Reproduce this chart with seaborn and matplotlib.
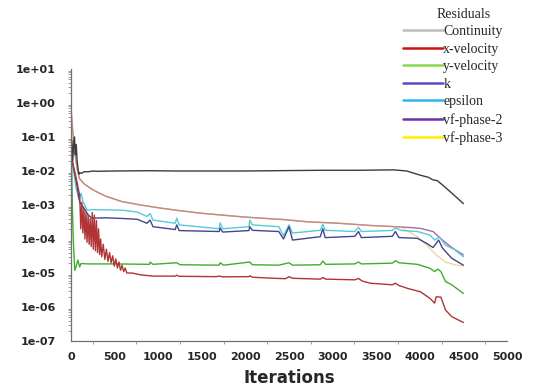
import numpy as np
import pandas as pd
import matplotlib
matplotlib.use("Agg")
import matplotlib.pyplot as plt
from matplotlib.lines import Line2D
import seaborn as sns

# ---------------- data ----------------
continuity_x = [0, 10, 20, 30, 40, 50, 60, 70, 80, 90, 100, 120, 150, 200, 250, 300, 500, 900, 1200,
                1500, 2000, 2500, 2900, 3300, 3700, 3850, 4000, 4100, 4150, 4200, 4260, 4370, 4500]
continuity_y = [3e-2, 8e-2, 2e-2, 6e-2, 1e-1, 3e-2, 6e-2, 2e-2, 1.2e-2, 8e-3, 9e-3, 8.5e-3, 9.5e-3, 9.5e-3,
                1.0e-2, 9.8e-3, 1.0e-2, 1.02e-2, 1.0e-2, 1.0e-2, 1.0e-2, 1.03e-2, 1.05e-2, 1.05e-2, 1.08e-2,
                1.0e-2, 7.6e-3, 6.5e-3, 5.5e-3, 5.2e-3, 3.9e-3, 2.2e-3, 1.1e-3]

xvel_x = [0, 25, 50, 75, 90, 100, 112, 124, 136, 148, 160, 172, 184, 196, 208, 220, 232, 244, 256, 268,
          280, 292, 304, 316, 328, 340, 352, 370, 388, 406, 424, 442, 460, 478, 496, 514, 532, 550, 568,
          586, 604, 622, 640, 700, 800, 943, 1195, 1213, 1240, 1663, 1700, 1740, 2041, 2050, 2080, 2383,
          2460, 2500, 2540, 2859, 2888, 2920, 3254, 3297, 3340, 3434, 3685, 3721, 3760, 3864, 4008, 4116,
          4170, 4188, 4242, 4295, 4367, 4500]
xvel_y = [3e-2, 1.5e-2, 8e-3, 4e-3, 2.5e-3, 2e-3, 2e-4, 1.2e-3, 1.5e-4, 8e-4, 1e-4, 6e-4, 8e-5, 5e-4, 7e-5,
          4e-4, 6e-5, 6e-4, 5e-5, 5e-4, 4.5e-5, 3.5e-4, 4e-5, 2e-4, 3.5e-5, 1e-4, 3e-5, 7e-5, 2.5e-5, 5e-5,
          2.2e-5, 4e-5, 2e-5, 3.2e-5, 1.6e-5, 2.6e-5, 1.4e-5, 2.1e-5, 1.2e-5, 1.7e-5, 1.1e-5, 1.4e-5, 1.0e-5,
          1.0e-5, 8.8e-6, 8.1e-6, 8.1e-6, 8.6e-6, 8e-6, 7.8e-6, 8.1e-6, 7.7e-6, 7.8e-6, 8.3e-6, 7.5e-6,
          6.9e-6, 6.8e-6, 7.8e-6, 7e-6, 6.6e-6, 7.4e-6, 6.6e-6, 6.3e-6, 6.9e-6, 5.8e-6, 5e-6, 4.5e-6, 5e-6,
          4.3e-6, 3.5e-6, 2.8e-6, 1.8e-6, 1.3e-6, 2e-6, 1.95e-6, 8.1e-7, 5.2e-7, 3.5e-7]

yvel_x = [0, 5, 15, 25, 35, 43, 60, 79, 100, 115, 200, 500, 900, 907, 940, 1213, 1250, 1700, 1710, 1750,
          2050, 2080, 2383, 2500, 2540, 2859, 2888, 2920, 3254, 3297, 3330, 3685, 3721, 3760, 3972, 4116,
          4170, 4206, 4242, 4295, 4367, 4500]
yvel_y = [2e-1, 5e-2, 1e-3, 1.2e-4, 3e-5, 1.2e-5, 1.6e-5, 2.4e-5, 1.5e-5, 1.9e-5, 1.85e-5, 1.85e-5, 1.8e-5,
          2.1e-5, 1.8e-5, 2e-5, 1.75e-5, 1.7e-5, 2e-5, 1.7e-5, 2.1e-5, 1.75e-5, 1.7e-5, 2.0e-5, 1.7e-5,
          1.75e-5, 2.25e-5, 1.8e-5, 1.85e-5, 2.1e-5, 1.85e-5, 1.95e-5, 2.3e-5, 2e-5, 1.8e-5, 1.38e-5,
          1.1e-5, 1.3e-5, 1.1e-5, 5.6e-6, 4.5e-6, 2.5e-6]

k_x = [0, 30, 60, 100, 150, 200, 241, 400, 600, 760, 871, 907, 940, 1195, 1213, 1240, 1700, 1710, 1740,
       2041, 2050, 2080, 2383, 2437, 2500, 2540, 2859, 2888, 2915, 3254, 3297, 3330, 3685, 3721, 3760,
       3972, 4080, 4152, 4216, 4260, 4367, 4500]
k_y = [3e-2, 1.2e-2, 5e-3, 1.2e-3, 8e-4, 5e-4, 4.1e-4, 4.2e-4, 4e-4, 3.8e-4, 2.9e-4, 3.6e-4, 2.3e-4,
       1.9e-4, 2.6e-4, 1.77e-4, 1.66e-4, 2.1e-4, 1.6e-4, 1.77e-4, 2.3e-4, 1.8e-4, 1.66e-4, 1.0e-4,
       2.3e-4, 9.3e-5, 1.17e-4, 2e-4, 1.1e-4, 1.2e-4, 1.66e-4, 1.1e-4, 1.2e-4, 1.66e-4, 1.1e-4, 1.05e-4,
       7.4e-5, 5.6e-5, 9.3e-5, 5.4e-5, 2.7e-5, 1.7e-5]

eps_x = [0, 30, 60, 90, 115, 140, 187, 250, 400, 600, 760, 871, 907, 940, 1195, 1213, 1240, 1700, 1710,
         1740, 2041, 2050, 2080, 2383, 2437, 2500, 2540, 2859, 2888, 2915, 3254, 3297, 3330, 3685, 3721,
         3792, 3972, 4116, 4170, 4224, 4295, 4403, 4500]
eps_y = [5e-2, 1e-2, 3e-3, 1.5e-3, 2.2e-3, 1.2e-3, 7e-4, 7.3e-4, 7.2e-4, 7e-4, 6.2e-4, 4.6e-4, 5.6e-4,
         3.6e-4, 2.9e-4, 4.1e-4, 2.6e-4, 2.0e-4, 3.0e-4, 2.0e-4, 2.3e-4, 3.6e-4, 2.6e-4, 2.3e-4, 1.25e-4,
         2.6e-4, 1.5e-4, 1.8e-4, 2.7e-4, 1.8e-4, 1.66e-4, 2.2e-4, 1.66e-4, 1.78e-4, 2.1e-4, 1.78e-4,
         1.66e-4, 1.3e-4, 9.3e-5, 1.15e-4, 6.6e-5, 4.8e-5, 3e-5]

vf2_x = [0, 20, 40, 70, 97, 150, 223, 300, 403, 583, 800, 1000, 1250, 1500, 2000, 2455, 2715, 3074, 3434,
         3721, 3864, 4008, 4152, 4260, 4367, 4500]
vf2_y = [0.7, 0.15, 4e-2, 1.2e-2, 6e-3, 4.2e-3, 3.1e-3, 2.4e-3, 1.8e-3, 1.26e-3, 1.0e-3, 8.3e-4, 6.8e-4,
         5.7e-4, 4.4e-4, 3.7e-4, 3.2e-4, 2.9e-4, 2.5e-4, 2.3e-4, 2.2e-4, 2.05e-4, 1.66e-4, 9.3e-5,
         5.6e-5, 3.4e-5]

vf3_x = [0, 20, 40, 70, 97, 150, 223, 300, 403, 583, 800, 1000, 1250, 1500, 2000, 2455, 2715, 3074, 3434,
         3721, 3792, 3972, 4080, 4188, 4295, 4403, 4500]
vf3_y = [0.7, 0.15, 4e-2, 1.2e-2, 6e-3, 4.2e-3, 3.1e-3, 2.4e-3, 1.8e-3, 1.26e-3, 1.0e-3, 8.3e-4, 6.8e-4,
         5.7e-4, 4.4e-4, 3.7e-4, 3.2e-4, 2.9e-4, 2.5e-4, 2.3e-4, 2.2e-4, 1.17e-4, 6.6e-5, 3.4e-5, 2.1e-5,
         1.74e-5, 1.6e-5]

series_names = ["Continuity", "x-velocity", "y-velocity", "k", "epsilon", "vf-phase-2", "vf-phase-3"]
series_data = {
    "Continuity": (continuity_x, continuity_y),
    "x-velocity": (xvel_x, xvel_y),
    "y-velocity": (yvel_x, yvel_y),
    "k": (k_x, k_y),
    "epsilon": (eps_x, eps_y),
    "vf-phase-2": (vf2_x, vf2_y),
    "vf-phase-3": (vf3_x, vf3_y),
}
x_ticks = [0, 500, 1000, 1500, 2000, 2500, 3000, 3500, 4000, 4500, 5000]
y_ticks = [1e-7, 1e-6, 1e-5, 1e-4, 1e-3, 1e-2, 1e-1, 1e0, 1e1]
y_ticklabels = ["1e-07", "1e-06", "1e-05", "1e-04", "1e-03", "1e-02", "1e-01", "1e+00", "1e+01"]

# ---------------- styling ----------------
line_colors = {"Continuity": "#3c3c3c", "x-velocity": "#b03434", "y-velocity": "#3fae2a",
               "k": "#45458c", "epsilon": "#55cbd8", "vf-phase-2": "#a86aa8", "vf-phase-3": "#e0b040"}
line_alpha = {"vf-phase-3": 0.5}
legend_colors = {"Continuity": "#bdbdbd", "x-velocity": "#cc1111", "y-velocity": "#88d84a",
                 "k": "#5a4ac8", "epsilon": "#2bb8ee", "vf-phase-2": "#7030a8", "vf-phase-3": "#ffee00"}
draw_order = ["vf-phase-2", "vf-phase-3", "epsilon", "k", "y-velocity", "x-velocity", "Continuity"]

sns.set_style("white")
plt.rcParams["font.family"] = ["DejaVu Sans"]

rows = []
for name in series_names:
    xs, ys = series_data[name]
    for a, b in zip(xs, ys):
        rows.append({"Iterations": a, "Residual": b, "Series": name})
df = pd.DataFrame(rows)

fig = plt.figure(figsize=(5.52, 3.90), dpi=100)
ax = fig.add_axes([71 / 552, 1 - 341 / 390, 436 / 552, 272 / 390])

for name in draw_order:
    sub = df[df["Series"] == name]
    sns.lineplot(data=sub, x="Iterations", y="Residual", ax=ax, color=line_colors[name],
                 alpha=line_alpha.get(name, 1.0), lw=1.0, sort=False, estimator=None, legend=False)

ax.set_yscale("log")
ax.set_xlim(0, 5000)
ax.set_ylim(1e-7, 1e1)
ax.set_xticks(x_ticks)
ax.set_xticks(np.arange(250, 5000, 500), minor=True)
ax.set_yticks(y_ticks)
ax.set_yticklabels(y_ticklabels)
ax.yaxis.set_minor_locator(matplotlib.ticker.LogLocator(base=10, subs=np.arange(2, 10)))
ax.yaxis.set_minor_formatter(matplotlib.ticker.NullFormatter())

for s in ["top", "right"]:
    ax.spines[s].set_visible(False)
for s in ["left", "bottom"]:
    ax.spines[s].set_color("#707070")
    ax.spines[s].set_linewidth(0.9)

ax.tick_params(axis="both", which="major", direction="out", length=4, width=0.8, color="#707070",
               labelsize=8, pad=4)
ax.tick_params(axis="y", which="major", pad=7)
ax.tick_params(axis="both", which="minor", direction="out", length=2, width=0.6, color="#909090")
ax.tick_params(axis="y", which="minor", left=True)
ax.tick_params(axis="x", which="minor", bottom=True)
for lab in ax.get_xticklabels() + ax.get_yticklabels():
    lab.set_fontweight("bold")

ax.set_xlabel("Iterations", fontsize=12, fontweight="bold", labelpad=5)
ax.set_ylabel("")

# legend (top right, outside axes)
handles = [Line2D([0], [0], color=legend_colors[n], lw=1.8) for n in series_names]
fig.text(437 / 552, 1 - 8 / 390, "Residuals", family="Liberation Serif", fontsize=10, va="top", ha="left")
fig.legend(handles, series_names, loc="upper left", bbox_to_anchor=(403 / 552, 1 - 25 / 390),
           frameon=False, prop={"family": "Liberation Serif", "size": 10}, handlelength=2.9,
           handletextpad=0.0, labelspacing=0.33, borderpad=0, borderaxespad=0)

fig.savefig("out.png", dpi=100)
